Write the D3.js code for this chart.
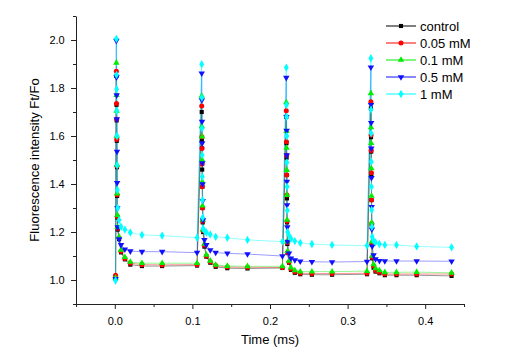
<!DOCTYPE html>
<html lang="en">
<head>
    <meta charset="UTF-8">
    <title>Fluorescence intensity Ft/Fo</title>
    <script src="https://d3js.org/d3.v7.min.js"></script>
    <style>
        body { margin: 0; background: #fff; font-family: "Liberation Sans", Arial, sans-serif; }
        .axis path, .axis line { stroke: #222; }
        .axis text { font-size: 11px; fill: #000; font-family: "Liberation Sans", Arial, sans-serif; }
        .title { font-size: 13px; fill: #000; }
        .legend text { font-size: 13px; fill: #000; }
    </style>
</head>
<body>
<svg id="chart" width="511" height="352"></svg>
<script>
    // sample times (ms), shared by every series
    const times = [
        0.001,
        0.002, 0.0022, 0.0024, 0.0026, 0.0028, 0.003, 0.0033, 0.0037, 0.0055, 0.008, 0.013, 0.020, 0.035, 0.061, 0.106,
        0.112, 0.1122, 0.1124, 0.1126, 0.1128, 0.113, 0.1133, 0.1137, 0.1155, 0.118, 0.123, 0.130, 0.145, 0.171, 0.216,
        0.221, 0.2212, 0.2214, 0.2216, 0.2218, 0.222, 0.2223, 0.2227, 0.2245, 0.227, 0.232, 0.239, 0.254, 0.280, 0.325,
        0.330, 0.3302, 0.3304, 0.3306, 0.3308, 0.331, 0.3313, 0.3317, 0.3335, 0.336, 0.341, 0.348, 0.363, 0.389, 0.434
    ];

    const control = [
        1.005,
        1.85, 1.73, 1.665, 1.58, 1.47, 1.35, 1.26, 1.21, 1.17, 1.115, 1.086, 1.064, 1.058, 1.058, 1.06,
        1.70, 1.58, 1.549, 1.46, 1.389, 1.30, 1.24, 1.20, 1.139, 1.097, 1.072, 1.055, 1.049, 1.048, 1.05,
        1.68, 1.57, 1.51, 1.4375, 1.34, 1.24, 1.15, 1.112, 1.072, 1.042, 1.03, 1.024, 1.022, 1.022, 1.024,
        1.715, 1.595, 1.535, 1.44, 1.333, 1.23, 1.146, 1.09, 1.051, 1.035, 1.028, 1.02, 1.02, 1.02, 1.017
    ];
    const mM005 = [
        1.02,
        1.87, 1.735, 1.67, 1.585, 1.475, 1.355, 1.265, 1.215, 1.175, 1.12, 1.09, 1.07, 1.064, 1.063, 1.064,
        1.725, 1.597, 1.549, 1.483, 1.389, 1.30, 1.245, 1.205, 1.145, 1.10, 1.076, 1.06, 1.054, 1.053, 1.052,
        1.705, 1.576, 1.52, 1.4375, 1.354, 1.245, 1.155, 1.115, 1.075, 1.046, 1.034, 1.028, 1.027, 1.027, 1.028,
        1.743, 1.604, 1.54, 1.447, 1.333, 1.235, 1.15, 1.095, 1.058, 1.04, 1.032, 1.025, 1.025, 1.025, 1.025
    ];
    const mM01 = [
        1.01,
        1.905, 1.77, 1.705, 1.60, 1.48, 1.36, 1.27, 1.22, 1.18, 1.125, 1.095, 1.075, 1.07, 1.07, 1.07,
        1.767, 1.64, 1.597, 1.50, 1.41, 1.31, 1.25, 1.21, 1.15, 1.105, 1.08, 1.063, 1.058, 1.057, 1.057,
        1.74, 1.62, 1.55, 1.458, 1.354, 1.25, 1.16, 1.12, 1.08, 1.052, 1.04, 1.035, 1.035, 1.035, 1.037,
        1.778, 1.636, 1.57, 1.465, 1.35, 1.239, 1.16, 1.10, 1.065, 1.048, 1.04, 1.032, 1.032, 1.033, 1.03
    ];
    const mM05 = [
        1.005,
        1.997, 1.845, 1.77, 1.67, 1.535, 1.405, 1.30, 1.22, 1.17, 1.146, 1.128, 1.12, 1.118, 1.118, 1.114,
        1.861, 1.75, 1.66, 1.57, 1.487, 1.40, 1.33, 1.25, 1.167, 1.146, 1.125, 1.114, 1.111, 1.108, 1.10,
        1.843, 1.68, 1.622, 1.52, 1.41, 1.3125, 1.22, 1.16, 1.111, 1.09, 1.083, 1.078, 1.076, 1.075, 1.077,
        1.886, 1.73, 1.655, 1.549, 1.426, 1.305, 1.211, 1.14, 1.104, 1.0875, 1.08, 1.079, 1.079, 1.079, 1.078
    ];
    const mM1 = [
        0.998,
        2.005, 1.855, 1.795, 1.705, 1.60, 1.478, 1.375, 1.30, 1.25, 1.222, 1.21, 1.198, 1.188, 1.185, 1.176,
        1.899, 1.76, 1.632, 1.52, 1.43, 1.333, 1.26, 1.215, 1.205, 1.198, 1.19, 1.18, 1.176, 1.167, 1.16,
        1.885, 1.73, 1.68, 1.60, 1.49, 1.389, 1.29, 1.20, 1.185, 1.172, 1.162, 1.155, 1.15, 1.146, 1.143,
        1.924, 1.71, 1.611, 1.493, 1.389, 1.292, 1.222, 1.18, 1.164, 1.157, 1.15, 1.146, 1.146, 1.14, 1.136
    ];

    const seriesNames = ["control", "0.05 mM", "0.1 mM", "0.5 mM", "1 mM"];
    const xTicks = [0.0, 0.1, 0.2, 0.3, 0.4];
    const yTicks = [1.0, 1.2, 1.4, 1.6, 1.8, 2.0];

    const series = [
        { name: seriesNames[0], values: control, color: "#000000", symbol: d3.symbolSquare, size: 17, rot: 0 },
        { name: seriesNames[1], values: mM005, color: "#ff0000", symbol: d3.symbolCircle, size: 20, rot: 0 },
        { name: seriesNames[2], values: mM01, color: "#00ee00", symbol: d3.symbolTriangle, size: 18, rot: 0 },
        { name: seriesNames[3], values: mM05, color: "#1010ff", symbol: d3.symbolTriangle, size: 18, rot: 180 },
        { name: seriesNames[4], values: mM1, color: "#00ffff", symbol: d3.symbolDiamond, size: 20, rot: 0 }
    ];

    const svg = d3.select("#chart");

    const x = d3.scaleLinear().domain([-0.05, 0.45]).range([76, 464]);
    const y = d3.scaleLinear().domain([0.9, 2.1]).range([304, 16]);

    // axes: major ticks with labels, minor ticks without
    svg.append("g").attr("class", "axis")
        .attr("transform", "translate(0,304)")
        .call(d3.axisBottom(x).tickValues(xTicks).tickFormat(d3.format(".1f")).tickSize(5).tickSizeOuter(0))
        .call(g => g.selectAll("text").attr("dy", "1.2em"));
    svg.append("g").attr("class", "axis")
        .attr("transform", "translate(0,304)")
        .call(d3.axisBottom(x).tickValues([-0.05, 0.05, 0.15, 0.25, 0.35, 0.45]).tickFormat("").tickSize(3).tickSizeOuter(0))
        .call(g => g.select(".domain").remove());

    svg.append("g").attr("class", "axis")
        .attr("transform", "translate(76,0)")
        .call(d3.axisLeft(y).tickValues(yTicks).tickFormat(d3.format(".1f")).tickSize(5).tickSizeOuter(0))
        .call(g => g.selectAll("text").attr("dx", "-0.3em"));
    svg.append("g").attr("class", "axis")
        .attr("transform", "translate(76,0)")
        .call(d3.axisLeft(y).tickValues([0.9, 1.1, 1.3, 1.5, 1.7, 1.9, 2.1]).tickFormat("").tickSize(3).tickSizeOuter(0))
        .call(g => g.select(".domain").remove());

    // axis titles
    svg.append("text").attr("class", "title")
        .attr("x", 270).attr("y", 344)
        .attr("text-anchor", "middle")
        .text("Time (ms)");
    svg.append("text").attr("class", "title")
        .attr("transform", "translate(39,160) rotate(-90)")
        .attr("text-anchor", "middle")
        .text("Fluorescence intensity Ft/Fo");

    // lines and markers
    const line = d3.line().x((d, i) => x(times[i])).y(d => y(d));

    series.forEach(s => {
        svg.append("path")
            .datum(s.values)
            .attr("fill", "none")
            .attr("stroke", s.color)
            .attr("stroke-width", 0.7)
            .attr("stroke-opacity", 0.6)
            .attr("d", line);
    });

    series.forEach(s => {
        const sym = d3.symbol().type(s.symbol).size(s.size);
        svg.append("g")
            .selectAll("path")
            .data(s.values)
            .join("path")
            .attr("d", sym)
            .attr("fill", s.color)
            .attr("transform", (d, i) => `translate(${x(times[i])},${y(d)}) rotate(${s.rot})`);
    });

    // legend
    const legend = svg.append("g").attr("class", "legend");
    series.forEach((s, i) => {
        const ly = 26 + i * 17;
        legend.append("line")
            .attr("x1", 386).attr("x2", 416)
            .attr("y1", ly).attr("y2", ly)
            .attr("stroke", s.color).attr("stroke-width", 1);
        legend.append("path")
            .attr("d", d3.symbol().type(s.symbol).size(s.size)())
            .attr("fill", s.color)
            .attr("transform", `translate(401,${ly}) rotate(${s.rot})`);
        legend.append("text")
            .attr("x", 420).attr("y", ly)
            .attr("dy", "0.35em")
            .text(s.name);
    });
</script>
</body>
</html>
